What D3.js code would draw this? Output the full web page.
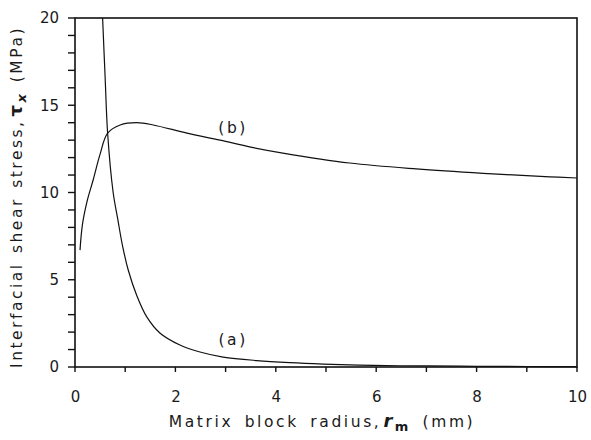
<!DOCTYPE html>
<html>
<head>
<meta charset="utf-8">
<script src="https://cdn.jsdelivr.net/npm/d3@7"></script>
<style>
  body { margin: 0; background: #fff; }
  text { font-family: "DejaVu Sans", sans-serif; fill: #1a1a1a; }
  .tick text { font-size: 15px; }
  .title { font-size: 15.5px; letter-spacing: 2.6px; word-spacing: 4px; }
  .ytitle { font-size: 15.5px; letter-spacing: 2.5px; word-spacing: 2px; }
</style>
</head>
<body>
<svg id="chart"></svg>
<script>
// curve (a)
const radiusA = [0.55, 0.6, 0.65, 0.76, 0.85, 0.95, 1.06, 1.23, 1.43, 1.69, 2.09, 2.49, 2.95, 3.62, 4.28, 4.94, 5.94, 7, 8, 9, 10];
const stressA = [20, 16.6, 13.4, 10.0, 8.5, 6.9, 5.56, 4.1, 2.87, 1.95, 1.26, 0.86, 0.57, 0.37, 0.25, 0.17, 0.09, 0.06, 0.04, 0.03, 0.02];
// curve (b)
const radiusB = [0.1, 0.15, 0.25, 0.36, 0.5, 0.65, 0.9, 1.23, 1.56, 2.23, 2.89, 3.5, 4.14, 5.47, 6.8, 8.13, 9.46, 10];
const stressB = [6.7, 8.2, 9.6, 10.7, 12.2, 13.4, 13.87, 14.0, 13.87, 13.4, 13.0, 12.6, 12.26, 11.69, 11.35, 11.1, 10.9, 10.83];

const xTicks = [0, 1, 2, 3, 4, 5, 6, 7, 8, 9, 10];
const xLabels = [0, 2, 4, 6, 8, 10];
const yTicks = [0, 1, 2, 3, 4, 5, 6, 7, 8, 9, 10, 11, 12, 13, 14, 15, 16, 17, 18, 19, 20];
const yLabels = [0, 5, 10, 15, 20];
const curveLabels = [{ text: "(a)", x: 3.15, y: 1.55 }, { text: "(b)", x: 3.15, y: 13.7 }];

var margin = {top: 18, right: 14, bottom: 73, left: 75},
    width = 591 - margin.left - margin.right,
    height = 440 - margin.top - margin.bottom;

const svg = d3.select("#chart")
    .attr("width", 591)
    .attr("height", 440);

const g = svg.append("g")
    .attr("transform", "translate(" + margin.left + "," + margin.top + ")");

var x = d3.scaleLinear().domain([0, 10]).range([0, width]);
var y = d3.scaleLinear().domain([0, 20]).range([height, 0]);

// tick labels
g.append("g")
    .attr("transform", "translate(0," + height + ")")
    .call(d3.axisBottom(x).tickValues(xLabels).tickSize(0).tickPadding(24))
    .call(a => a.select(".domain").remove());

g.append("g")
    .call(d3.axisLeft(y).tickValues(yLabels).tickSize(0).tickPadding(16))
    .call(a => a.select(".domain").remove());

// tick marks, one per unit, pointing outward
g.selectAll(".xtick")
    .data(xTicks)
  .enter().append("line")
    .attr("class", "xtick")
    .attr("x1", d => x(d)).attr("x2", d => x(d))
    .attr("y1", height).attr("y2", height + 5)
    .attr("stroke", "#111")
    .attr("stroke-width", 1.4);

g.selectAll(".ytick")
    .data(yTicks)
  .enter().append("line")
    .attr("class", "ytick")
    .attr("x1", -7).attr("x2", 0)
    .attr("y1", d => y(d)).attr("y2", d => y(d))
    .attr("stroke", "#111")
    .attr("stroke-width", 1.4);

// frame
g.append("rect")
    .attr("width", width)
    .attr("height", height)
    .attr("fill", "none")
    .attr("stroke", "#111")
    .attr("stroke-width", 1.6);

const line = d3.line()
    .x(d => x(d[0]))
    .y(d => y(d[1]))
    .curve(d3.curveCatmullRom.alpha(0.5));

[[radiusA, stressA], [radiusB, stressB]].forEach(([xs, ys]) => {
  g.append("path")
      .datum(xs.map((r, i) => [r, ys[i]]))
      .attr("fill", "none")
      .attr("stroke", "#111")
      .attr("stroke-width", 1.2)
      .attr("d", line);
});

g.selectAll(".clabel")
    .data(curveLabels)
  .enter().append("text")
    .attr("class", "title")
    .attr("x", d => x(d.x))
    .attr("y", d => y(d.y))
    .attr("text-anchor", "middle")
    .attr("dy", "0.35em")
    .text(d => d.text);

// x title
const xt = svg.append("text")
    .attr("class", "title")
    .attr("x", 322)
    .attr("y", 427)
    .attr("text-anchor", "middle");
xt.append("tspan").text("Matrix block radius,");
xt.append("tspan").attr("dx", 2).attr("font-weight", "bold").attr("font-style", "italic").attr("font-size", "18px").text("r");
xt.append("tspan").attr("font-weight", "bold").attr("font-size", "13px").attr("dy", 4).text("m");
xt.append("tspan").attr("dy", -4).text(" (mm)");

// y title
const yt = svg.append("text")
    .attr("class", "ytitle")
    .attr("transform", "translate(22,197) rotate(-90)")
    .attr("text-anchor", "middle");
yt.append("tspan").text("Interfacial shear stress,");
yt.append("tspan").attr("dx", 3).attr("font-weight", "bold").attr("font-size", "18px").text("\u03c4");
yt.append("tspan").attr("font-weight", "bold").attr("font-style", "italic").attr("font-size", "13px").attr("dy", 4).text("x");
yt.append("tspan").attr("dy", -4).text(" (MPa)");
</script>
</body>
</html>
